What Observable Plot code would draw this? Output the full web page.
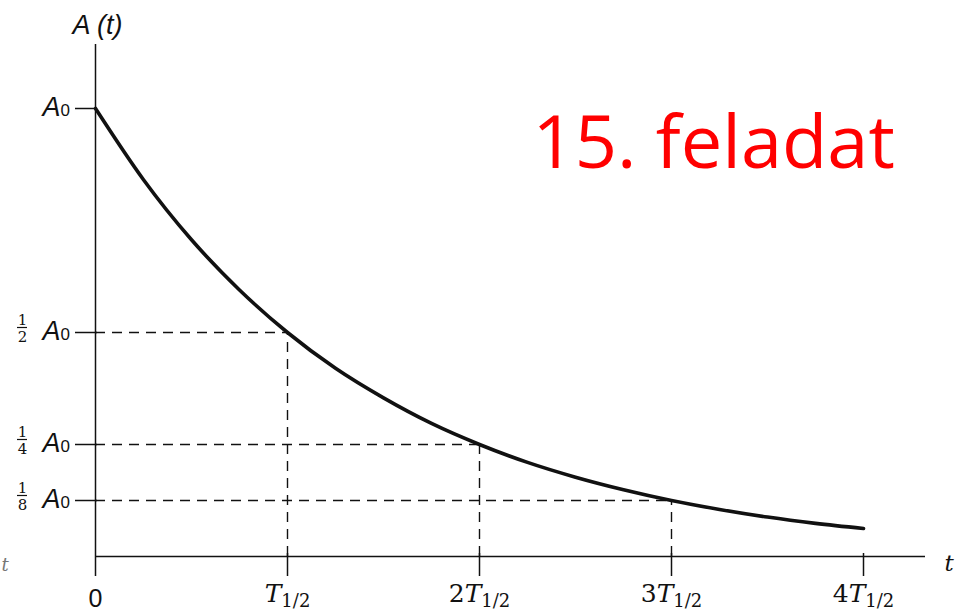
<!DOCTYPE html>
<html><head><meta charset="utf-8">
<script src="https://cdn.jsdelivr.net/npm/d3@7"></script>
<script src="https://cdn.jsdelivr.net/npm/@observablehq/plot@0.6"></script>
<style>html,body{margin:0;padding:0;background:#fff;} svg{display:block;}</style>
</head><body>
<script>
// Decay curve (t in half-lives, A in units of A0)
const tValues = [0, 0.25, 0.5, 0.75, 1, 1.25, 1.5, 1.75, 2, 2.25, 2.5, 2.75, 3, 3.25, 3.5, 3.75, 4];
const aValues = [1, 0.841, 0.707, 0.595, 0.5, 0.42, 0.354, 0.297, 0.25, 0.21, 0.177, 0.149, 0.125, 0.105, 0.088, 0.074, 0.0625];
// Dashed guide lines
const halfLifeMultiples = [1, 2, 3];
const remainingFractions = [0.5, 0.25, 0.125];
// Tick labels
const yTickValues = [1, 0.5, 0.25, 0.125];
const yTickNumerators = ["", "1", "1", "1"];
const yTickDenominators = ["", "2", "4", "8"];
const xTickValues = [1, 2, 3, 4];
const xTickCoefficients = ["", "2", "3", "4"];
const yAxisLabel = "A (t)";
const xAxisLabel = "t";
const title = "15. feladat";

const curve = tValues.map((t, i) => ({t, a: aValues[i]}));
const guides = halfLifeMultiples.map((k, i) => ({k, f: remainingFractions[i]}));
const yTicks = yTickValues.map((v, i) => ({v, num: yTickNumerators[i], den: yTickDenominators[i]}));
const fracTicks = yTicks.filter(d => d.num);
const xTicks = xTickValues.map((v, i) => ({v, coef: xTickCoefficients[i]}));

// pixel -> data helpers for layout lengths
const X0 = 95, XU = 192, Y0 = 556, YU = 448;
const xd = p => (p - X0) / XU;
const yd = p => (Y0 - p) / YU;
const ink = "#111";

const svg = Plot.plot({
  width: 959,
  height: 616,
  x: {domain: [0, 4], range: [X0, X0 + 4 * XU], axis: null},
  y: {domain: [0, 1], range: [Y0, Y0 - YU], axis: null},
  style: {background: "#fff", overflow: "visible"},
  marks: [
    // axes
    Plot.ruleX([0], {y1: yd(576), y2: yd(44), stroke: ink, strokeWidth: 1.5}),
    Plot.ruleY([0], {x1: 0, x2: xd(925), stroke: ink, strokeWidth: 1.5}),
    // ticks
    Plot.ruleX(xTicks, {x: "v", y1: yd(576), y2: yd(553), stroke: ink, strokeWidth: 1.5}),
    Plot.ruleY(yTicks, {y: "v", x1: xd(75), x2: xd(97), stroke: ink, strokeWidth: 1.5}),
    // dashed guides
    Plot.ruleY(guides, {y: "f", x1: 0, x2: "k", stroke: ink, strokeWidth: 1.4, strokeDasharray: "10,7"}),
    Plot.ruleX(guides, {x: "k", y1: 0, y2: "f", stroke: ink, strokeWidth: 1.4, strokeDasharray: "10,7"}),
    // decay curve
    Plot.line(curve, {x: "t", y: "a", stroke: ink, strokeWidth: 3.6, curve: "monotone-x"}),
    // y tick labels: A0 with fractions
    Plot.text(yTicks, {x: 0, y: "v", text: () => "A", textAnchor: "end", lineAnchor: "bottom", dx: -35, dy: 7,
      fontFamily: "Liberation Sans", fontStyle: "italic", fontSize: 27, fill: ink}),
    Plot.text(yTicks, {x: 0, y: "v", text: () => "0", textAnchor: "start", lineAnchor: "bottom", dx: -35, dy: 7,
      fontFamily: "Liberation Sans", fontSize: 17, fill: ink}),
    Plot.text(fracTicks, {x: xd(22), y: "v", text: "num", textAnchor: "middle", lineAnchor: "bottom", dy: -8,
      fontFamily: "DejaVu Serif", fontSize: 15, fill: ink}),
    Plot.text(fracTicks, {x: xd(22), y: "v", text: "den", textAnchor: "middle", lineAnchor: "bottom", dy: 9,
      fontFamily: "DejaVu Serif", fontSize: 15, fill: ink}),
    Plot.ruleY(fracTicks, {y: "v", x1: xd(17), x2: xd(27), dy: -5, stroke: ink, strokeWidth: 1.2}),
    // x tick labels
    Plot.text([0], {x: 0, y: 0, text: () => "0", textAnchor: "middle", lineAnchor: "bottom", dy: 50,
      fontFamily: "Liberation Sans", fontSize: 25, fill: ink}),
    Plot.text(xTicks, {x: "v", y: 0, text: d => d.coef + "T", textAnchor: "middle", lineAnchor: "bottom", dy: 45,
      fontFamily: "DejaVu Serif", fontSize: 25, fill: ink}),
    // axis labels
    Plot.text([yAxisLabel], {x: 0, y: 1, text: d => d, textAnchor: "middle", lineAnchor: "bottom", dx: 2, dy: -75,
      fontFamily: "Liberation Sans", fontStyle: "italic", fontSize: 27, fill: ink}),
    Plot.text([xAxisLabel], {x: xd(944), y: 0, text: d => d, textAnchor: "start", lineAnchor: "bottom", dy: 14,
      fontFamily: "DejaVu Serif", fontStyle: "italic", fontSize: 23, fill: ink}),
    Plot.text([xAxisLabel], {x: xd(1), y: 0, text: d => d, textAnchor: "start", lineAnchor: "bottom", dy: 14,
      fontFamily: "DejaVu Serif", fontStyle: "italic", fontSize: 18, fill: "#777"}),
    // title
    Plot.text([title], {x: xd(532), y: yd(167), text: d => d, textAnchor: "start", lineAnchor: "bottom",
      fontFamily: "Open Sans", fontSize: 74, fill: "#ff0000"})
  ]
});

// rich text for the half-life labels: kT with subscript 1/2
d3.select(svg).selectAll("text").each(function () {
  const m = /^([0-9]?)T$/.exec(this.textContent);
  if (!m) return;
  const sel = d3.select(this);
  sel.text(null);
  if (m[1]) sel.append("tspan").attr("font-style", "normal").text(m[1]);
  sel.append("tspan").attr("font-style", "italic").text("T");
  sel.append("tspan").attr("font-style", "normal").attr("font-size", 18).attr("dy", 5).text("1/2");
});

document.body.appendChild(svg);
</script>
</body></html>
